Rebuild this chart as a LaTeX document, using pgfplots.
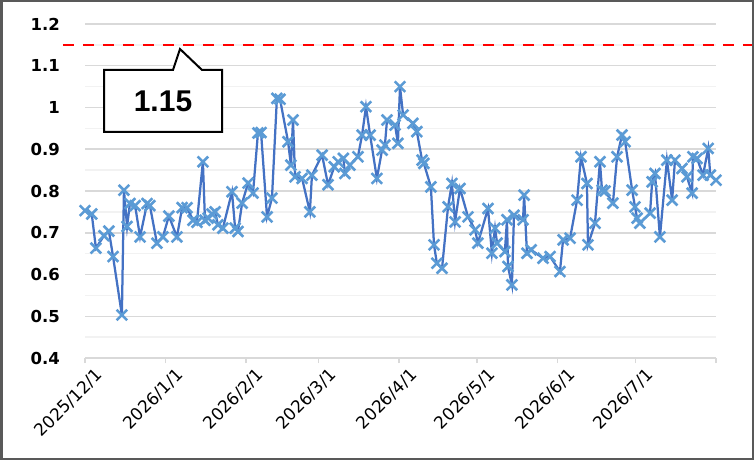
\documentclass[border=0pt]{standalone}
\usepackage{pgfplots}
\pgfplotsset{compat=1.18}
\usepackage{fontspec}
\setmainfont{DejaVu Sans}
\newfontfamily\calloutfont{Liberation Sans}
\definecolor{linecol}{HTML}{4472C4}
\definecolor{markcol}{HTML}{5B9BD5}
\definecolor{gridmaj}{HTML}{D9D9D9}
\definecolor{gridmin}{HTML}{F2F2F2}
\definecolor{framecol}{HTML}{595959}
\begin{document}
\begin{tikzpicture}
\useasboundingbox (0pt,0pt) rectangle (754pt,460pt);
\fill[white] (0pt,0pt) rectangle (754pt,460pt);
\begin{axis}[
    at={(85pt,102pt)}, anchor=south west,
    scale only axis, width=631pt, height=334pt,
    xmin=0, xmax=243, ymin=0.4, ymax=1.2,
    clip=false,
    axis line style={draw=none},
    xtick={0,31,62,90,121,151,182,212,243},
    xticklabels={2025/12/1,2026/1/1,2026/2/1,2026/3/1,2026/4/1,2026/5/1,2026/6/1,2026/7/1,{}},
    xtick pos=left, tick align=outside,
    major tick length=5pt,
    xtick style={draw=gridmaj, line width=1.5pt},
    ytick={0.4,0.5,...,1.21},
    minor y tick num=1,
    ytick style={draw=none},
    minor tick length=0pt,
    ymajorgrids, yminorgrids,
    major grid style={draw=gridmaj, line width=1.5pt},
    minor grid style={draw=gridmin, line width=1.5pt},
    /pgf/number format/assume math mode=true,
    /pgf/number format/fixed,
    yticklabel style={font=\fontsize{16.5}{18}\selectfont\bfseries, anchor=east, inner sep=0pt, xshift=-20pt},
    xticklabel style={font=\fontsize{17}{19}\selectfont, rotate=45, anchor=east, inner sep=0pt, xshift=4pt, yshift=-17pt},
]
\addplot[red, line width=2.7pt, dash pattern=on 11pt off 9pt] coordinates {(-8.5,1.15) (256.8,1.15)};
\addplot[linecol, line width=2.25pt, mark=x, mark size=7.5pt,
    mark options={draw=markcol, line width=2.6pt, solid}] table {
d v
0.0 0.753
2.6 0.745
4.2 0.663
7.3 0.693
9.2 0.704
10.8 0.643
14.2 0.503
15.0 0.802
16.2 0.715
17.3 0.770
19.3 0.765
21.2 0.690
23.9 0.770
25.0 0.765
27.7 0.675
30.0 0.690
32.3 0.740
35.4 0.690
37.4 0.760
39.3 0.760
41.6 0.730
43.1 0.725
45.4 0.870
46.2 0.730
47.4 0.735
48.9 0.745
50.1 0.750
51.2 0.719
53.1 0.711
56.6 0.798
57.8 0.711
58.9 0.703
60.5 0.771
62.8 0.819
64.7 0.795
66.6 0.939
67.8 0.940
70.1 0.738
72.0 0.783
73.9 1.022
75.1 1.020
78.2 0.918
79.3 0.862
80.1 0.970
80.9 0.834
83.6 0.830
86.6 0.750
87.4 0.838
91.3 0.886
93.6 0.815
96.0 0.858
97.5 0.870
99.5 0.878
100.1 0.842
102.0 0.862
105.1 0.882
106.7 0.934
108.2 1.002
109.8 0.934
112.4 0.830
114.4 0.898
115.5 0.910
116.3 0.970
119.4 0.958
120.5 0.914
121.3 1.050
122.5 0.982
126.3 0.962
127.8 0.942
129.8 0.874
130.5 0.866
133.2 0.810
134.4 0.671
135.5 0.627
137.5 0.615
139.8 0.762
141.3 0.818
142.5 0.726
144.4 0.806
147.5 0.738
150.2 0.707
151.3 0.675
155.2 0.758
156.7 0.651
157.9 0.711
158.7 0.675
161.7 0.655
162.5 0.731
162.9 0.619
164.4 0.575
165.2 0.742
168.7 0.731
169.1 0.790
170.2 0.651
171.8 0.659
176.4 0.639
179.1 0.643
182.9 0.607
184.1 0.683
186.8 0.687
189.5 0.778
191.0 0.882
193.3 0.818
193.7 0.671
196.4 0.723
198.3 0.870
199.1 0.802
200.3 0.800
203.3 0.771
204.9 0.882
206.8 0.934
208.0 0.918
210.7 0.802
211.8 0.762
212.6 0.735
213.7 0.723
217.6 0.747
218.4 0.822
219.5 0.842
221.4 0.690
224.1 0.874
226.1 0.778
227.2 0.874
229.9 0.854
231.8 0.834
233.8 0.795
234.1 0.882
235.7 0.878
238.0 0.838
240.0 0.902
240.8 0.838
243.0 0.826
};
\end{axis}
% callout
\draw[black, line width=2pt, fill=white, line join=miter]
    (104pt,328pt) -- (104pt,390pt) -- (173pt,390pt) -- (180pt,411pt)
    -- (202pt,390pt) -- (222pt,390pt) -- (222pt,328pt) -- cycle;
\node[font=\calloutfont\fontsize{30}{32}\selectfont\bfseries] at (163pt,359pt) {1.15};
\draw[framecol, line width=2.5pt] (1.25pt,1.25pt) rectangle (752.75pt,458.75pt);
\end{tikzpicture}
\end{document}
